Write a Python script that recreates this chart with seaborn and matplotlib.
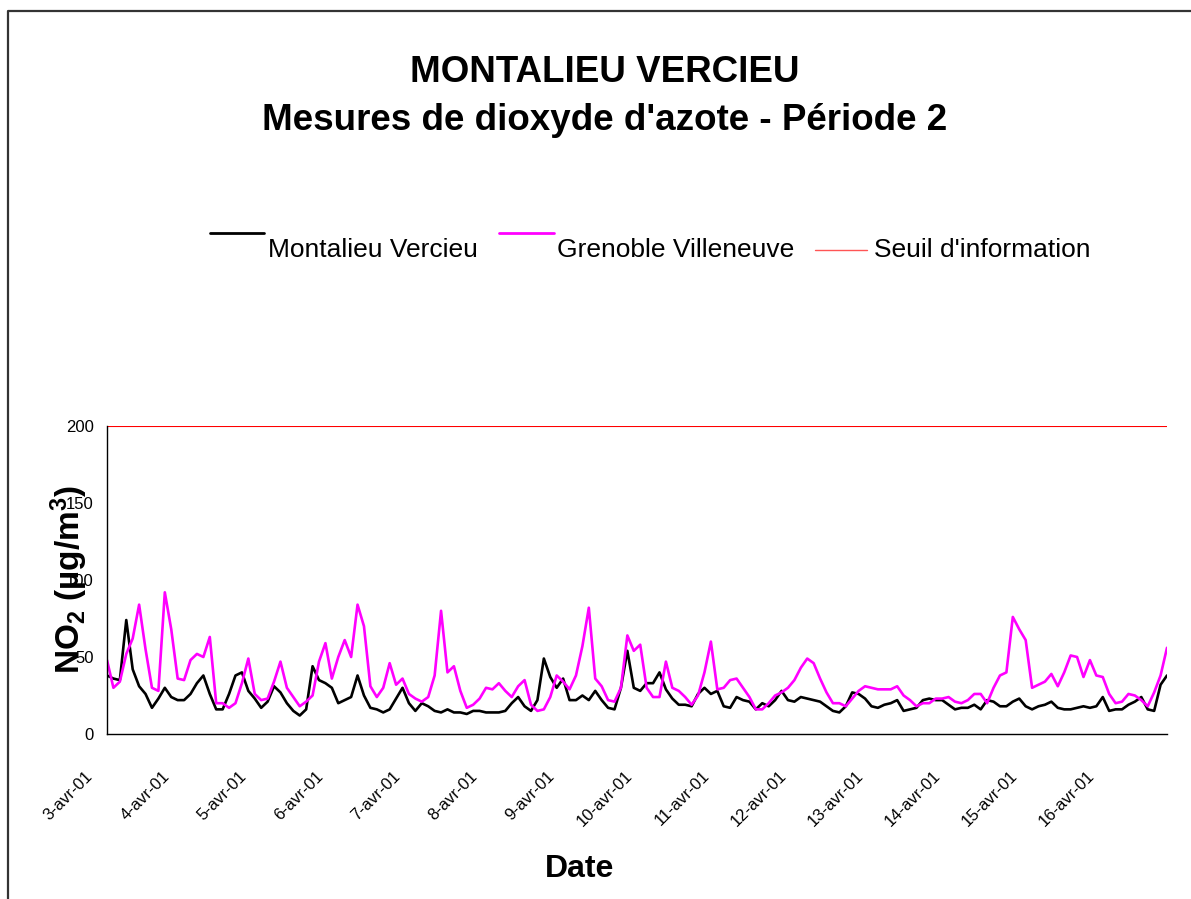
import numpy as np
import pandas as pd
import seaborn as sns
import matplotlib.pyplot as plt
from matplotlib.lines import Line2D
from matplotlib.transforms import ScaledTranslation

# 2-hourly NO2 readings (ug/m3), from 3 april 2001 00h
start = "2001-04-03 00:00"
montalieu = [
    38, 36, 35, 74, 42, 31, 26, 17, 23, 30,
    24, 22, 22, 26, 33, 38, 26, 16, 16, 26,
    38, 40, 28, 23, 17, 21, 31, 27, 20, 15,
    12, 16, 44, 35, 33, 30, 20, 22, 24, 38,
    25, 17, 16, 14, 16, 23, 30, 20, 15, 20,
    18, 15, 14, 16, 14, 14, 13, 15, 15, 14,
    14, 14, 15, 20, 24, 18, 15, 22, 49, 37,
    30, 36, 22, 22, 25, 22, 28, 22, 17, 16,
    30, 54, 30, 28, 33, 33, 40, 29, 23, 19,
    19, 18, 26, 30, 26, 28, 18, 17, 24, 22,
    21, 16, 20, 18, 22, 28, 22, 21, 24, 23,
    22, 21, 18, 15, 14, 18, 27, 26, 23, 18,
    17, 19, 20, 22, 15, 16, 17, 22, 23, 22,
    22, 19, 16, 17, 17, 19, 16, 22, 21, 18,
    18, 21, 23, 18, 16, 18, 19, 21, 17, 16,
    16, 17, 18, 17, 18, 24, 15, 16, 16, 19,
    21, 24, 16, 15, 32, 38,
]
grenoble = [
    48, 30, 34, 52, 62, 84, 55, 30, 28, 92,
    68, 36, 35, 48, 52, 50, 63, 20, 20, 17,
    20, 33, 49, 26, 22, 23, 34, 47, 30, 24,
    18, 21, 25, 47, 59, 36, 50, 61, 50, 84,
    70, 31, 24, 30, 46, 32, 36, 26, 23, 21,
    24, 38, 80, 40, 44, 28, 17, 19, 23, 30,
    29, 33, 28, 24, 31, 35, 19, 15, 16, 24,
    38, 34, 29, 38, 57, 82, 36, 31, 22, 21,
    30, 64, 54, 58, 30, 24, 24, 47, 30, 28,
    24, 19, 25, 40, 60, 29, 30, 35, 36, 30,
    24, 16, 16, 20, 25, 27, 30, 35, 43, 49,
    46, 36, 27, 20, 20, 18, 23, 28, 31, 30,
    29, 29, 29, 31, 25, 22, 18, 20, 20, 23,
    23, 24, 21, 20, 22, 26, 26, 20, 30, 38,
    40, 76, 68, 61, 30, 32, 34, 39, 31, 40,
    51, 50, 37, 48, 38, 37, 26, 20, 21, 26,
    25, 22, 18, 27, 38, 56,
]
seuil = 200
day_labels = ["3-avr-01", "4-avr-01", "5-avr-01", "6-avr-01", "7-avr-01",
              "8-avr-01", "9-avr-01", "10-avr-01", "11-avr-01", "12-avr-01",
              "13-avr-01", "14-avr-01", "15-avr-01", "16-avr-01"]

dates = pd.date_range(start, periods=len(montalieu), freq="2h")
df = pd.DataFrame({"date": dates, "Montalieu Vercieu": montalieu,
                   "Grenoble Villeneuve": grenoble})

sns.set_theme(style="white")
plt.rcParams["font.family"] = ["Liberation Sans", "DejaVu Sans"]
plt.rcParams["mathtext.default"] = "regular"
plt.rcParams["text.color"] = "black"
plt.rcParams["axes.labelcolor"] = "black"

W, H = 1191, 899
fig = plt.figure(figsize=(W / 100, H / 100), dpi=100)
ax = fig.add_axes([107 / W, 1 - 734 / H, 1060 / W, 308 / H])

sns.lineplot(data=df, x="date", y="Montalieu Vercieu", color="black",
             linewidth=1.9, ax=ax, legend=False)
sns.lineplot(data=df, x="date", y="Grenoble Villeneuve", color="#FF00FF",
             linewidth=1.9, ax=ax, legend=False)
ax.axhline(seuil, color="red", linewidth=0.8)

ax.set_ylim(0, 200)
ax.set_xlim(dates[0], dates[-1])
ax.set_yticks([0, 50, 100, 150, 200])
ticks = pd.date_range(start, periods=len(day_labels), freq="D")
ax.set_xticks(ticks)
ax.set_xticklabels(day_labels, rotation=45, ha="right", va="center",
                   rotation_mode="anchor")
ax.tick_params(axis="both", direction="inout", length=9, width=1,
               colors="black", labelsize=12)
ax.tick_params(axis="y", pad=5)
ax.tick_params(axis="x", pad=24)
shift = ScaledTranslation(-0.17, 0, fig.dpi_scale_trans)
for lab in ax.get_xticklabels():
    lab.set_transform(lab.get_transform() + shift)

for s in ["top", "right"]:
    ax.spines[s].set_visible(False)
for s in ["left", "bottom"]:
    ax.spines[s].set_color("black")
    ax.spines[s].set_linewidth(1)

ax.set_ylabel("NO$_2$ (µg/m$^3$)", fontsize=24, fontweight="bold")
ax.yaxis.set_label_coords(-0.016, 0.5)
ax.set_xlabel("Date", fontsize=23, fontweight="bold", va="top")
ax.xaxis.set_label_coords((580 - 107) / 1060, -0.39)

fig.text(605 / W, 1 - 72 / H, "MONTALIEU VERCIEU", ha="center", va="center",
         fontsize=26.5, fontweight="bold")
fig.text(605 / W, 1 - 120 / H, "Mesures de dioxyde d'azote - Période 2",
         ha="center", va="center", fontsize=26.5, fontweight="bold")

# legend, drawn the way the spreadsheet laid it out
leg = [("Montalieu Vercieu", "black", 2.0, 210, 264, 233, 268),
       ("Grenoble Villeneuve", "#FF00FF", 2.0, 499, 554, 233, 557),
       ("Seuil d'information", "#FF5555", 1.0, 815, 867, 250, 874)]
for name, col, lw, x0, x1, ly, tx in leg:
    fig.add_artist(Line2D([x0 / W, x1 / W], [1 - ly / H, 1 - ly / H],
                          color=col, linewidth=lw))
    fig.text(tx / W, 1 - 250 / H, name, ha="left", va="center", fontsize=19)

# outer frame
fig.add_artist(Line2D([8 / W, 8 / W, 1.0], [0.0, 1 - 11 / H, 1 - 11 / H],
                      color="#333333", linewidth=1.6))

fig.savefig("out.png", dpi=100)
